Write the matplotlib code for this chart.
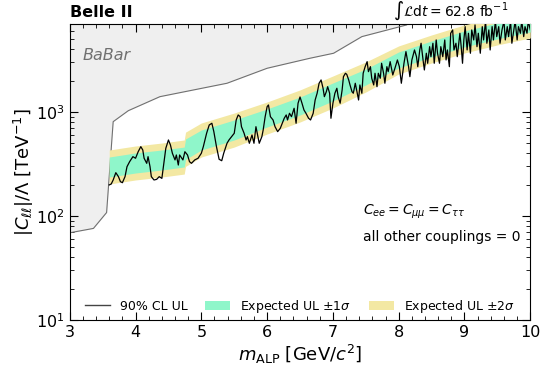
import matplotlib
matplotlib.use("Agg")
import matplotlib.pyplot as plt
from matplotlib.patches import Patch
from matplotlib.lines import Line2D
from matplotlib.ticker import MultipleLocator

# BaBar excluded region (lower edge)
babar_mass = [3.0, 3.36, 3.56, 3.66, 3.89, 4.37, 5.39, 6.0, 6.65, 7.01, 7.44, 8.12, 8.13]
babar_ul = [69, 76, 108, 807, 1029, 1403, 1888, 2631, 3283, 3668, 5300, 6863, 7000]

# expected upper limit bands
band_mass = [3.6, 4.0, 4.4, 4.74, 4.76, 5.0, 5.5, 6.0, 6.5, 7.0, 7.5, 8.0, 8.5, 9.0, 9.5, 10.0]
exp_hi2 = [431, 471, 503, 538, 640, 784, 977, 1248, 1629, 2218, 3026, 4315, 5500, 6870, 8190, 9570]
exp_hi1 = [369, 404, 431, 460, 550, 671, 838, 1069, 1393, 1900, 2588, 3776, 4820, 6010, 7180, 8380]
exp_lo1 = [237, 259, 277, 296, 350, 431, 538, 717, 935, 1276, 1819, 2650, 3380, 4220, 5040, 5880]
exp_lo2 = [203, 222, 237, 253, 300, 369, 460, 614, 801, 1092, 1556, 2318, 2960, 3690, 4410, 5150]

# observed 90% CL upper limit
obs_mass = [
    3.60, 3.63, 3.66, 3.70, 3.74, 3.77, 3.80, 3.84, 3.87, 3.91,
    3.96, 4.00, 4.04, 4.08, 4.11, 4.13, 4.17, 4.19, 4.22, 4.24,
    4.28, 4.32, 4.36, 4.40, 4.43, 4.46, 4.50, 4.53, 4.56, 4.60,
    4.62, 4.65, 4.67, 4.72, 4.75, 4.79, 4.82, 4.85, 4.90, 4.95,
    5.00, 5.03, 5.08, 5.12, 5.16, 5.19, 5.23, 5.27, 5.31, 5.34,
    5.39, 5.42, 5.46, 5.50, 5.53, 5.56, 5.59, 5.61, 5.65, 5.68,
    5.70, 5.73, 5.77, 5.80, 5.83, 5.86, 5.88, 5.92, 5.94, 5.97,
    6.00, 6.02, 6.05, 6.09, 6.12, 6.16, 6.20, 6.23, 6.26, 6.29,
    6.31, 6.34, 6.37, 6.41, 6.44, 6.47, 6.50, 6.53, 6.56, 6.59,
    6.63, 6.66, 6.70, 6.73, 6.76, 6.79, 6.82, 6.85, 6.87, 6.90,
    6.92, 6.95, 6.97, 7.00, 7.03, 7.06, 7.08, 7.11, 7.14, 7.16,
    7.19, 7.21, 7.24, 7.26, 7.29, 7.31, 7.34, 7.36, 7.39, 7.41,
    7.44, 7.46, 7.49, 7.52, 7.54, 7.57, 7.59, 7.62, 7.64, 7.67,
    7.69, 7.72, 7.74, 7.77, 7.79, 7.82, 7.84, 7.87, 7.91, 7.95,
    7.98, 8.01, 8.04, 8.08, 8.11, 8.15, 8.17, 8.20, 8.24, 8.27,
    8.29, 8.32, 8.34, 8.37, 8.39, 8.42, 8.44, 8.47, 8.49, 8.52,
    8.54, 8.57, 8.59, 8.62, 8.64, 8.67, 8.70, 8.72, 8.74, 8.77,
    8.79, 8.82, 8.84, 8.87, 8.89, 8.93, 8.95, 8.97, 8.99, 9.01,
    9.04, 9.06, 9.09, 9.11, 9.14, 9.16, 9.19, 9.21, 9.24, 9.27,
    9.29, 9.32, 9.34, 9.37, 9.39, 9.42, 9.44, 9.47, 9.49, 9.52,
    9.54, 9.57, 9.60, 9.62, 9.65, 9.67, 9.70, 9.72, 9.75, 9.77,
    9.80, 9.82, 9.85, 9.87, 9.90, 9.92, 9.95, 9.97, 10.00,
]
obs_ul = [
    199, 203, 222, 261, 239, 214, 209, 239, 298, 333,
    372, 359, 415, 464, 431, 359, 321, 372, 298, 239,
    222, 225, 239, 230, 321, 448, 538, 482, 401, 346,
    386, 309, 386, 346, 415, 386, 333, 321, 346, 359,
    401, 464, 624, 750, 779, 647, 464, 351, 340, 401,
    500, 538, 579, 624, 838, 936, 901, 722, 624, 538,
    579, 500, 601, 500, 722, 579, 500, 579, 671, 901,
    1125, 1168, 901, 838, 722, 647, 697, 779, 870, 936,
    838, 972, 901, 1085, 779, 1213, 1394, 1213, 1045, 972,
    870, 838, 972, 1304, 1513, 1888, 2031, 1690, 1403, 1567,
    1750, 1513, 870, 1213, 1513, 1690, 1403, 1213, 1628, 2185,
    2355, 2300, 2031, 1818, 1567, 1513, 1888, 1628, 1304, 1818,
    1513, 2355, 2726, 3046, 2441, 2726, 2109, 1818, 2355, 1750,
    2355, 2109, 2938, 2355, 1888, 2726, 2441, 3046, 2268, 2726,
    3162, 2726, 1888, 2938, 3801, 2726, 2185, 3162, 3946, 3401,
    2726, 3946, 4576, 3162, 2534, 3668, 2938, 4244, 3401, 4576,
    2938, 4924, 3668, 2938, 4244, 3401, 4924, 3162, 3946, 2726,
    5710, 6143, 3946, 4576, 3401, 5710, 4244, 2938, 4924, 6609,
    3946, 5710, 3668, 6143, 4924, 6863, 4244, 5710, 3668, 6609,
    4924, 7500, 4576, 6143, 3946, 6609, 4924, 7500, 5300, 6609,
    4576, 6143, 7500, 4924, 6609, 5300, 7500, 4576, 6143, 7500,
    4924, 6609, 5710, 7500, 5300, 6609, 5710, 7500, 6143,
]

fig = plt.figure(figsize=(5.45, 3.7), dpi=100)
ax = fig.add_axes([0.128, 0.135, 0.845, 0.80])

ax.fill_between(babar_mass, babar_ul, 7000, color='#efefef', lw=0, zorder=1)
ax.plot(babar_mass, babar_ul, color='#707070', lw=0.8, zorder=2)

ax.fill_between(band_mass, exp_lo2, exp_hi2, color='#f3e8a3', lw=0, zorder=3)
ax.fill_between(band_mass, exp_lo1, exp_hi1, color='#8ff6ca', lw=0, zorder=4)
ax.plot(obs_mass, obs_ul, color='black', lw=0.9, zorder=5)

ax.set_yscale('log')
ax.set_xlim(3, 10)
ax.set_ylim(10, 7000)
ax.xaxis.set_minor_locator(MultipleLocator(0.2))

ax.tick_params(which='both', direction='in', top=True, right=True, labelsize=11.5)
ax.tick_params(which='major', length=6)
ax.tick_params(which='minor', length=3)

ax.set_xlabel(r'$m_{\mathrm{ALP}}$ [GeV/$c^2$]', fontsize=13, labelpad=2)
ax.set_ylabel(r'$|C_{\ell\ell}|/\Lambda$ [TeV$^{-1}$]', fontsize=13)
ax.yaxis.set_label_coords(-0.074, 0.5)

ax.text(3.2, 3500, 'BaBar', style='italic', color='#707070', fontsize=11.5, va='center')
ax.text(7.45, 109, r'$C_{ee} = C_{\mu\mu} = C_{\tau\tau}$', fontsize=10, va='center')
ax.text(7.45, 63, 'all other couplings = 0', fontsize=10, va='center')

fig.text(0.128, 0.965, 'Belle II', fontweight='bold', fontsize=11.5, va='center')
fig.text(0.932, 0.957, r'$\int\mathcal{L}\mathrm{d}t = 62.8$ fb$^{-1}$',
         fontsize=10, va='baseline', ha='right')

handles = [
    Line2D([], [], color='#444444', lw=1.0),
    Patch(facecolor='#8ff6ca'),
    Patch(facecolor='#f3e8a3'),
]
labels = ['90% CL UL', r'Expected UL $\pm1\sigma$', r'Expected UL $\pm2\sigma$']
ax.legend(handles, labels, ncol=3, frameon=False, fontsize=9,
          loc='lower center', bbox_to_anchor=(0.5, -0.02),
          columnspacing=1.4, handlelength=2.0, handletextpad=0.8)

fig.savefig('out.png', dpi=100)
